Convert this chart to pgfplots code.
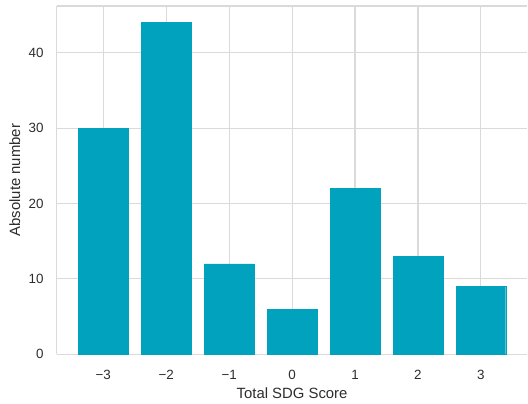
\documentclass[border=0pt]{standalone}
\usepackage{fontspec}
\setmainfont{Liberation Sans}
\usepackage{pgfplots}
\pgfplotsset{compat=1.18}
\definecolor{barc}{RGB}{0,162,189}
\definecolor{gridc}{RGB}{218,218,218}
\definecolor{txtc}{RGB}{45,45,45}
\begin{document}
\begin{tikzpicture}
\begin{axis}[
  at={(0,0)}, anchor=south west,
  scale only axis, width=473bp, height=350bp,
  xmin=-3.74, xmax=3.74, ymin=0, ymax=46.2,
  axis x line*=box, axis y line*=left,
  ybar, bar width=0.79, bar shift=0pt,
  xtick={-3,-2,-1,0,1,2,3},
  xticklabels={−3,−2,−1,0,1,2,3},
  ytick={0,10,20,30,40},
  /pgf/number format/assume math mode=true,
  grid=major,
  major grid style={draw=gridc, line width=1.1bp},
  axis line style={draw=gridc, line width=1.1bp, -},
  major tick length=0pt,
  tick style={draw=none},
  xticklabel style={font=\fontsize{13.5}{16}\selectfont, text=txtc, anchor=center, inner sep=0pt, yshift=-21bp},
  yticklabel style={font=\fontsize{13.5}{16}\selectfont, text=txtc, anchor=east, inner sep=0pt, xshift=-13bp},
  every axis x label/.style={at={([yshift=-39bp]axis description cs:0.5,0)}, anchor=center, font=\fontsize{15}{18}\selectfont, text=txtc},
  every axis y label/.style={at={([xshift=-42bp]axis description cs:0,0.5)}, anchor=center, rotate=90, font=\fontsize{15}{18}\selectfont, text=txtc},
  xlabel={Total SDG Score},
  ylabel={Absolute number},
]
\addplot[fill=barc, draw=barc] coordinates {(-3,30) (-2,44) (-1,12) (0,6) (1,22) (2,13) (3,9)};
\end{axis}
\path[use as bounding box] (-57bp,-49bp) rectangle (471bp,356bp);
\end{tikzpicture}
\end{document}
